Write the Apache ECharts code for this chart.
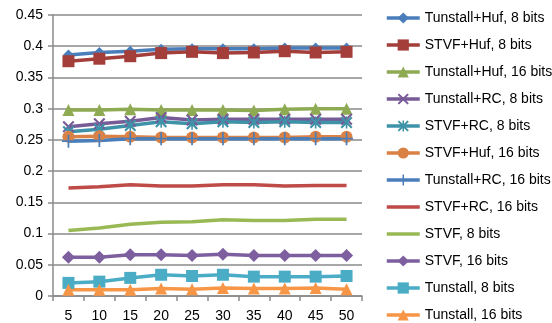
<!DOCTYPE html>
<html>
<head>
<meta charset="utf-8">
<script src="https://cdn.jsdelivr.net/npm/echarts@6/dist/echarts.min.js"></script>
<style>
  html, body { margin: 0; padding: 0; background: #fff; }
  #chart { width: 552px; height: 323px; }
</style>
</head>
<body>
<div id="chart"></div>
<script>
// Block sizes on the x axis
const blockSizes = ['5', '10', '15', '20', '25', '30', '35', '40', '45', '50'];

// Series values, one array per coder variant
const tunstallHuf8  = [0.386, 0.390, 0.392, 0.395, 0.396, 0.396, 0.396, 0.397, 0.397, 0.397];
const stvfHuf8      = [0.376, 0.380, 0.384, 0.389, 0.391, 0.389, 0.390, 0.392, 0.390, 0.391];
const tunstallHuf16 = [0.298, 0.298, 0.299, 0.298, 0.298, 0.298, 0.297, 0.299, 0.300, 0.300];
const tunstallRC8   = [0.271, 0.276, 0.280, 0.286, 0.282, 0.283, 0.283, 0.283, 0.283, 0.283];
const stvfRC8       = [0.263, 0.267, 0.273, 0.279, 0.276, 0.279, 0.278, 0.279, 0.278, 0.278];
const stvfHuf16     = [0.255, 0.256, 0.255, 0.254, 0.254, 0.254, 0.254, 0.254, 0.255, 0.255];
const tunstallRC16  = [0.248, 0.249, 0.252, 0.252, 0.252, 0.252, 0.252, 0.252, 0.252, 0.252];
const stvfRC16      = [0.173, 0.175, 0.178, 0.176, 0.176, 0.178, 0.178, 0.176, 0.177, 0.177];
const stvf8         = [0.105, 0.109, 0.115, 0.118, 0.119, 0.122, 0.121, 0.121, 0.123, 0.123];
const stvf16        = [0.062, 0.062, 0.066, 0.066, 0.065, 0.067, 0.065, 0.065, 0.065, 0.065];
const tunstall8     = [0.021, 0.023, 0.029, 0.034, 0.032, 0.034, 0.031, 0.031, 0.031, 0.032];
const tunstall16    = [0.010, 0.010, 0.010, 0.012, 0.011, 0.013, 0.012, 0.012, 0.013, 0.011];

// Y axis ticks
const yMin = 0, yMax = 0.45, yStep = 0.05;

// Marker shapes not built into ECharts
const xMark = 'path://M1.5,0 L6,4.5 L10.5,0 L12,1.5 L7.5,6 L12,10.5 L10.5,12 L6,7.5 L1.5,12 L0,10.5 L4.5,6 L0,1.5 Z';
const starMark = xMark + ' M5.2,0 L6.8,0 L6.8,12 L5.2,12 Z';
const plusMark = 'path://M5.2,0 L6.8,0 L6.8,5.2 L12,5.2 L12,6.8 L6.8,6.8 L6.8,12 L5.2,12 L5.2,6.8 L0,6.8 L0,5.2 L5.2,5.2 Z';

const defs = [
  { name: 'Tunstall+Huf, 8 bits',  data: tunstallHuf8,  color: '#4A7EBB', symbol: 'diamond',  size: 11 },
  { name: 'STVF+Huf, 8 bits',      data: stvfHuf8,      color: '#A33E3B', symbol: 'rect',     size: 12 },
  { name: 'Tunstall+Huf, 16 bits', data: tunstallHuf16, color: '#8EAA52', symbol: 'triangle', size: 12 },
  { name: 'Tunstall+RC, 8 bits',   data: tunstallRC8,   color: '#775B97', symbol: xMark,      size: 12 },
  { name: 'STVF+RC, 8 bits',       data: stvfRC8,       color: '#3F93A8', symbol: starMark,   size: 12 },
  { name: 'STVF+Huf, 16 bits',     data: stvfHuf16,     color: '#DA8245', symbol: 'circle',   size: 12 },
  { name: 'Tunstall+RC, 16 bits',  data: tunstallRC16,  color: '#4A7EBB', symbol: plusMark,   size: 13 },
  { name: 'STVF+RC, 16 bits',      data: stvfRC16,      color: '#BE4B48', symbol: 'none',     size: 0 },
  { name: 'STVF, 8 bits',          data: stvf8,         color: '#98B954', symbol: 'none',     size: 0 },
  { name: 'STVF, 16 bits',         data: stvf16,        color: '#7D5FA0', symbol: 'diamond',  size: 13 },
  { name: 'Tunstall, 8 bits',      data: tunstall8,     color: '#4BACC6', symbol: 'rect',     size: 12 },
  { name: 'Tunstall, 16 bits',     data: tunstall16,    color: '#F79646', symbol: 'triangle', size: 12 }
];

const gridColor = '#8A8A8A';
const fontFamily = '"Liberation Sans", Arial, sans-serif';

const chart = echarts.init(document.getElementById('chart'), null, { renderer: 'canvas' });
chart.setOption({
  animation: false,
  backgroundColor: '#ffffff',
  textStyle: { fontFamily: fontFamily, color: '#000' },
  grid: { left: 53, top: 15, right: 190, bottom: 24, containLabel: false },
  legend: {
    orient: 'vertical',
    left: 385,
    top: 11,
    height: 312,
    padding: 0,
    itemWidth: 33,
    itemHeight: 14,
    itemGap: 13,
    lineStyle: { width: 3.5 },
    textStyle: { fontFamily: fontFamily, fontSize: 14, color: '#000' },
    // lines drawn without markers get a plain stroke in the key
    data: defs.map(d => d.symbol === 'none'
      ? { name: d.name, itemStyle: { opacity: 0 } }
      : { name: d.name })
  },
  xAxis: {
    type: 'category',
    data: blockSizes,
    boundaryGap: true,
    axisLine: { lineStyle: { color: gridColor, width: 1.5 } },
    axisTick: { show: true, length: 5, alignWithLabel: false, lineStyle: { color: gridColor, width: 1.5 } },
    axisLabel: { color: '#000', fontSize: 14, margin: 13, fontFamily: fontFamily },
    splitLine: { show: false }
  },
  yAxis: {
    type: 'value',
    min: yMin,
    max: yMax,
    interval: yStep,
    axisLine: { show: true, lineStyle: { color: gridColor, width: 1.5 } },
    axisTick: { show: true, length: 5, lineStyle: { color: gridColor, width: 1.5 } },
    axisLabel: { color: '#000', fontSize: 14, margin: 10, fontFamily: fontFamily },
    splitLine: { show: true, lineStyle: { color: gridColor, width: 1.5 } }
  },
  series: defs.map(d => ({
    name: d.name,
    type: 'line',
    data: d.data,
    symbol: d.symbol,
    symbolSize: d.size,
    showSymbol: d.symbol !== 'none',
    color: d.color,
    lineStyle: { color: d.color, width: 3.5 },
    itemStyle: { color: d.color, borderWidth: 0 },
    emphasis: { disabled: true }
  }))
});
</script>
</body>
</html>
